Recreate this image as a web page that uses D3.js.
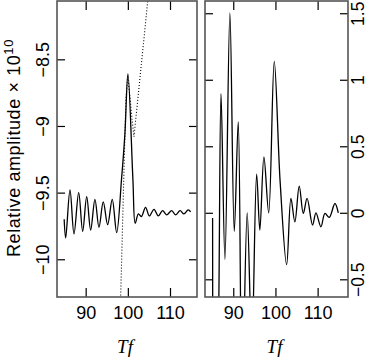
<!DOCTYPE html>
<html><head><meta charset="utf-8">
<script src="https://cdn.jsdelivr.net/npm/d3@7"></script>
<style>body{margin:0;background:#fff}</style>
</head><body>
<svg id="c" width="368" height="359"></svg>
<script>
// ---- data ----
const leftSolidX = [84.9, 85.26, 86.28, 87.23, 88.34, 89.29, 90.24, 91.18, 92.2, 93.15, 94.17, 95.21, 96.3, 97.35, 98.5, 99.3, 100.02, 101.2, 101.75, 102.5, 103.2, 104.2, 105.1, 106.2, 107.2, 108.25, 109.2, 110.4, 111.3, 112.4, 113.3, 114.3, 114.9];
const leftSolidY = [-9.70, -9.84, -9.48, -9.81, -9.50, -9.79, -9.53, -9.78, -9.55, -9.76, -9.57, -9.74, -9.55, -9.80, -9.40, -9.06, -8.61, -9.40, -9.73, -9.66, -9.68, -9.61, -9.675, -9.625, -9.675, -9.635, -9.667, -9.635, -9.667, -9.635, -9.66, -9.63, -9.645];
const leftDotX = [98.0, 98.3, 98.7, 99.08, 99.55, 99.95, 100.5, 101.0, 101.45, 102.2, 103.0, 104.0, 105.0];
const leftDotY = [-10.7, -10.28, -9.8, -9.33, -8.80, -8.62, -8.78, -8.95, -9.08, -8.85, -8.60, -8.29, -7.97];
const rightX = [85.1, 85.25, 85.9, 86.6, 87.1, 88.03, 89.2, 90.24, 91.18, 92.1, 93.3, 94.4, 95.54, 96.3, 97.27, 98.4, 99.72, 101.1, 102.65, 103.67, 104.6, 105.64, 106.6, 107.5, 108.8, 109.6, 110.78, 111.73, 112.75, 114.1, 114.9];
const rightY = [-0.04, -1.6, -2.6, -0.6, 0.895, -0.35, 1.503, -0.14, 0.683, -1.4, 0.0, -1.0, 0.29, -0.13, 0.42, 0.0, 1.138, 0.24, -0.39, 0.108, -0.068, 0.2, -0.005, 0.108, -0.092, 0.0, -0.105, -0.005, -0.035, 0.07, 0.0];
const xTicks = [90, 100, 110];
const leftYTicks = [-10, -9.5, -9, -8.5];
const rightYTicks = [-0.5, 0, 0.5, 1, 1.5];
const xTitle = "Tf";
const yTitle = "Relative amplitude \u00d7 10";
const yTitleSup = "10";

// ---- layout ----
const svg = d3.select("#c");
const fmt = v => String(v).replace("-", "\u2212");
const pTop = 1, pBottom = 297;
const font = "'Liberation Sans', Arial, Helvetica, sans-serif";

function panel(id, x0, x1, xDom, yDom, side, series) {
  const x = d3.scaleLinear().domain(xDom).range([x0, x1]);
  const y = d3.scaleLinear().domain(yDom).range([pBottom, pTop]);
  const g = svg.append("g");
  g.append("clipPath").attr("id", id).append("rect")
    .attr("x", x0).attr("y", pTop).attr("width", x1 - x0).attr("height", pBottom - pTop);
  series.forEach(s => {
    const pts = s.xs.map((v, i) => [v, s.ys[i]]);
    g.append("path").attr("clip-path", `url(#${id})`)
      .attr("d", d3.line().x(d => x(d[0])).y(d => y(d[1])).curve(s.curve)(pts))
      .attr("fill", "none").attr("stroke", "#000").attr("stroke-width", s.w)
      .attr("stroke-dasharray", s.dash || null);
  });
  const yT = side === "left" ? leftYTicks : rightYTicks;
  const ab = g.append("g").attr("transform", `translate(0,${pBottom})`)
    .call(d3.axisBottom(x).tickValues(xTicks).tickSize(-9).tickPadding(9).tickFormat(d => d));
  const at = g.append("g").attr("transform", `translate(0,${pTop})`)
    .call(d3.axisTop(x).tickValues(xTicks).tickSize(-9).tickFormat(""));
  const al = g.append("g").attr("transform", `translate(${x0},0)`)
    .call(d3.axisLeft(y).tickValues(yT).tickSize(-8).tickFormat(side === "left" ? fmt : ""));
  const ar = g.append("g").attr("transform", `translate(${x1},0)`)
    .call(d3.axisRight(y).tickValues(yT).tickSize(-8).tickFormat(side === "right" ? fmt : ""));
  [ab, at, al, ar].forEach(a => {
    a.select(".domain").remove();
    a.selectAll("line").attr("stroke", "#000").attr("stroke-width", 1.2);
    a.selectAll("text").attr("font-family", font).attr("font-size", 18).attr("fill", "#000");
  });
  al.selectAll("text").attr("x", null).attr("dy", null).attr("text-anchor", "middle")
    .attr("transform", "translate(-8,0) rotate(-90)");
  ar.selectAll("text").attr("x", null).attr("dy", null).attr("text-anchor", "middle")
    .attr("font-size", 17.5)
    .attr("transform", "translate(16,0) rotate(-90)");
  g.append("rect").attr("x", x0).attr("y", pTop).attr("width", x1 - x0).attr("height", pBottom - pTop)
    .attr("fill", "none").attr("stroke", "#555").attr("stroke-width", 1.6);
  g.append("text").attr("x", (x0 + x1) / 2 - 2).attr("y", 353).attr("text-anchor", "middle")
    .attr("font-family", "'Liberation Serif', 'Times New Roman', serif").attr("font-style", "italic")
    .attr("font-size", 19).text(xTitle);
}

panel("cl", 57, 197, [83.2, 116.4], [-10.283, -8.0625], "left", [
  {xs: leftSolidX, ys: leftSolidY, curve: d3.curveCatmullRom.alpha(0.5), w: 1.3},
  {xs: leftDotX, ys: leftDotY, curve: d3.curveLinear, w: 1.1, dash: "1,2"}
]);
panel("cr", 205, 348, [83.3, 117.2], [-0.633, 1.592], "right", [
  {xs: rightX, ys: rightY, curve: d3.curveCatmullRom.alpha(0.5), w: 1.3}
]);

const yt = svg.append("text").attr("transform", "translate(20,148) rotate(-90)")
  .attr("text-anchor", "middle").attr("font-family", font).attr("font-size", 18)
  .attr("letter-spacing", 0.6);
yt.append("tspan").text(yTitle);
yt.append("tspan").attr("dy", -7).attr("font-size", 13).text(yTitleSup);
</script>
</body></html>
